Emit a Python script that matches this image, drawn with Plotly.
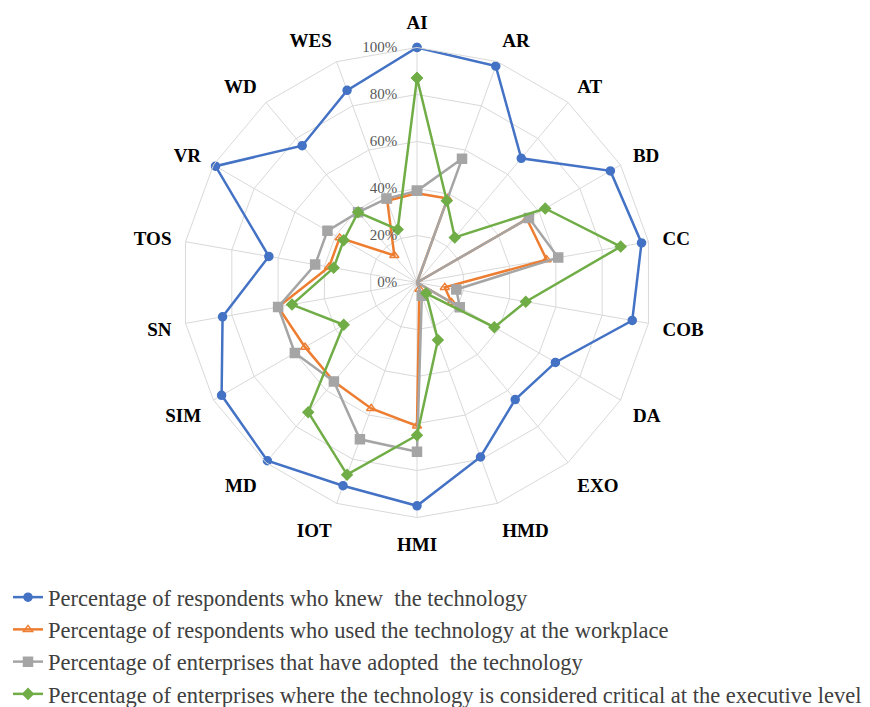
import plotly.graph_objects as go

categories = ["AI", "AR", "AT", "BD", "CC", "COB", "DA", "EXO", "HMD", "HMI",
              "IOT", "MD", "SIM", "SN", "TOS", "VR", "WD", "WES"]
knew = [100, 98, 69, 95, 97, 93, 68, 65, 79, 95, 92, 99, 96, 84, 64, 99, 76, 87]
used = [38, 38, 0, 54, 56, 12, 17, 0, 3, 61, 57, 55, 55, 60, 38, 38, 15, 37]
adopted = [39, 56, 0, 55, 61, 17, 21, 0, 6, 72, 71, 55, 60, 60, 44, 44, 39, 38]
critical = [87, 37, 25, 63, 88, 47, 38, 6, 26, 65, 87, 72, 36, 54, 36, 36, 39, 24]

names = [
    "Percentage of respondents who knew  the technology",
    "Percentage of respondents who used the technology at the workplace",
    "Percentage of enterprises that have adopted  the technology",
    "Percentage of enterprises where the technology is considered critical at the executive level",
]
radial_ticks = [0, 20, 40, 60, 80, 100]
radial_labels = ["0%", "20%", "40%", "60%", "80%", "100%"]

series = [knew, used, adopted, critical]
colors = ["#4472C4", "#ED7D31", "#A5A5A5", "#70AD47"]
symbols = ["circle", "triangle-up-open", "square", "diamond"]
sizes = [8, 8, 9, 8]

fig = go.Figure()
for i, (vals, name) in enumerate(zip(series, names)):
    fig.add_trace(go.Scatterpolar(
        r=vals + vals[:1],
        theta=categories + categories[:1],
        mode="lines+markers",
        name=name,
        legendgroup=f"g{i}",
        line=dict(color=colors[i], width=2.5),
        marker=dict(symbol=symbols[i], size=sizes[i], color=colors[i],
                    line=dict(color=colors[i], width=1.5)),
    ))

grid = "#D9D9D9"
cx, cy, half = 409, 285, 244
fig.update_layout(
    width=870, height=707,
    margin=dict(l=0, r=0, t=0, b=0),
    paper_bgcolor="white",
    plot_bgcolor="white",
    polar=dict(
        domain=dict(x=[(cx - half) / 870, (cx + half) / 870],
                    y=[1 - (cy + half) / 707, 1 - (cy - half) / 707]),
        bgcolor="white",
        gridshape="linear",
        angularaxis=dict(
            rotation=90, direction="clockwise",
            showline=True, linecolor=grid, linewidth=1,
            gridcolor=grid, gridwidth=1,
            ticks="outside", ticklen=10, tickcolor="rgba(0,0,0,0)",
            tickfont=dict(family="Liberation Serif", size=19, color="black",
                          weight="bold"),
        ),
        radialaxis=dict(
            range=[0, 100], tickmode="array", tickvals=radial_ticks,
            ticktext=radial_labels,
            angle=90, tickangle=90, side="counterclockwise",
            showline=False, gridcolor=grid, gridwidth=1,
            ticks="outside", ticklen=14, tickcolor="rgba(0,0,0,0)",
            tickfont=dict(family="Liberation Serif", size=15, color="#595959"),
        ),
    ),
    legend=dict(
        x=0.0, y=1 - 590 / 707, xanchor="left", yanchor="top",
        font=dict(family="Liberation Serif", size=22.5, color="#404040"),
        tracegroupgap=0, itemwidth=30,
    ),
    showlegend=True,
)
fig.write_html("out.html")
